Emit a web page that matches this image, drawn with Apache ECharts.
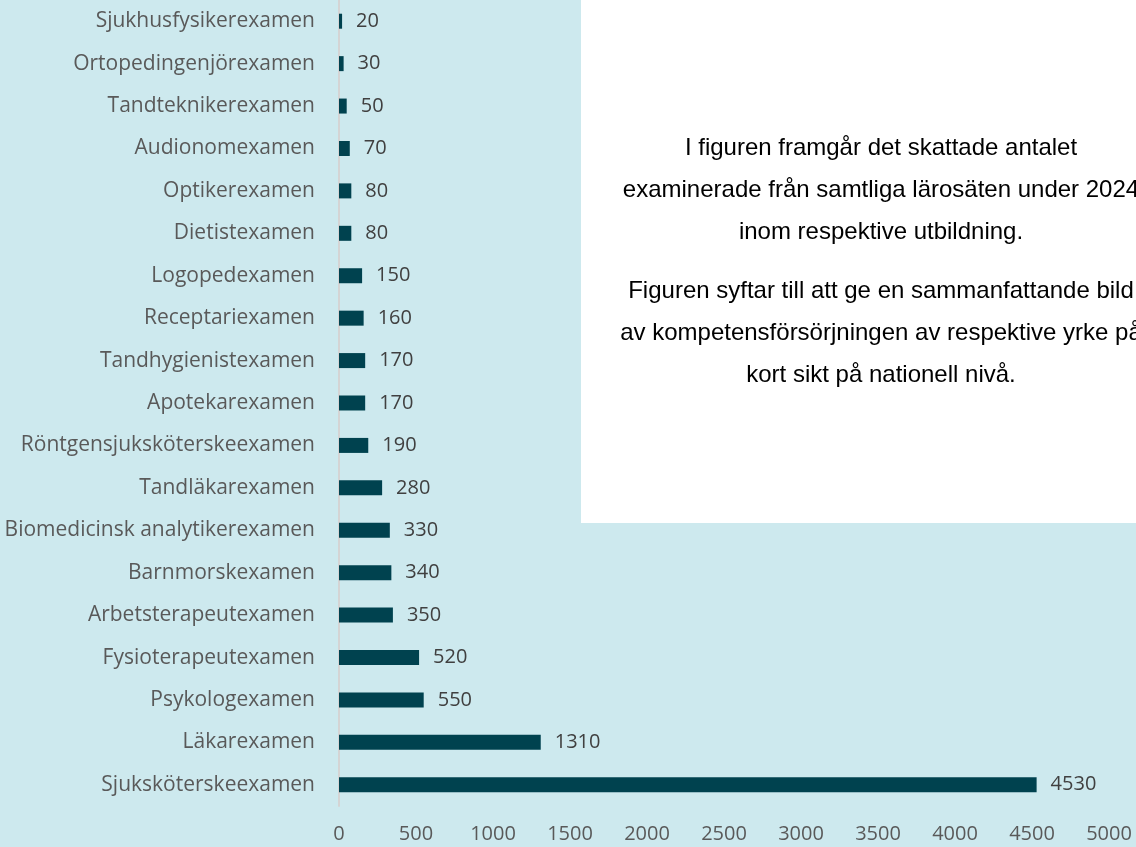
<!doctype html>
<html>
<head>
<meta charset="utf-8">
<title>Examinerade 2024</title>
<style>
  html, body { margin: 0; padding: 0; width: 100%; height: 100%; background: #cde9ee; }
  #chart { width: 1136px; height: 847px; }
</style>
</head>
<body>
<div id="chart"></div>
<script src="https://cdn.jsdelivr.net/npm/echarts@6/dist/echarts.min.js"></script>
<script>
// categories, bottom to top (ECharts category axis runs upwards)
var categories = [
  'Sjuksköterskeexamen', 'Läkarexamen', 'Psykologexamen', 'Fysioterapeutexamen',
  'Arbetsterapeutexamen', 'Barnmorskexamen', 'Biomedicinsk analytikerexamen',
  'Tandläkarexamen', 'Röntgensjuksköterskeexamen', 'Apotekarexamen',
  'Tandhygienistexamen', 'Receptariexamen', 'Logopedexamen', 'Dietistexamen',
  'Optikerexamen', 'Audionomexamen', 'Tandteknikerexamen', 'Ortopedingenjörexamen',
  'Sjukhusfysikerexamen'
];
var values = [4530, 1310, 550, 520, 350, 340, 330, 280, 190, 170, 170, 160, 150, 80, 80, 70, 50, 30, 20];
var xTicks = [0, 500, 1000, 1500, 2000, 2500, 3000, 3500, 4000, 4500, 5000];

var notePara1 = [
  'I figuren framgår det skattade antalet',
  'examinerade från samtliga lärosäten under 2024',
  'inom respektive utbildning.'
];
var notePara2 = [
  'Figuren syftar till att ge en sammanfattande bild',
  'av kompetensförsörjningen av respektive yrke på',
  'kort sikt på nationell nivå.'
];

var labelFont = 'Open Sans';

// note text as one rich text block: two paragraphs with a smaller gap line
function wrap(lines) {
  return lines.map(function (t) { return '{a|' + t + '}'; }).join('\n');
}
var noteText = wrap(notePara1) + '\n{g| }\n' + wrap(notePara2);

var chart = echarts.init(document.getElementById('chart'));
var option = {
  backgroundColor: '#cde9ee',
  animation: false,
  grid: { left: 339, right: 27, top: -1, bottom: 41, containLabel: false },
  xAxis: {
    type: 'value',
    min: xTicks[0],
    max: xTicks[xTicks.length - 1],
    interval: 500,
    axisLine: { show: false },
    axisTick: { show: false },
    splitLine: { show: false },
    axisLabel: {
      color: '#595959', fontSize: 20, fontFamily: labelFont, margin: 18,
      formatter: function (v) { return String(v); }
    }
  },
  yAxis: {
    type: 'category',
    data: categories,
    axisLine: { show: true, lineStyle: { color: '#d4d4d4', width: 2 } },
    axisTick: { show: false },
    axisLabel: { color: '#595959', fontSize: 21, fontFamily: labelFont, margin: 24 }
  },
  series: [{
    type: 'bar',
    data: values,
    barWidth: 15,
    itemStyle: { color: '#00424f' },
    label: {
      show: true,
      position: 'right',
      distance: 14,
      color: '#404040',
      fontSize: 20,
      fontFamily: labelFont
    }
  }],
  graphic: [
    {
      type: 'rect',
      left: 581, top: 0,
      shape: { width: 560, height: 523 },
      style: { fill: '#ffffff' },
      z: 10
    },
    {
      type: 'text',
      x: 881,
      y: 127,
      z: 11,
      style: {
        text: noteText,
        align: 'center',
        verticalAlign: 'top',
        rich: {
          a: {
            fontFamily: '"Liberation Sans", Arial, sans-serif',
            fontSize: 24,
            lineHeight: 42,
            color: '#000000',
            align: 'center'
          },
          g: { fontSize: 1, lineHeight: 17, align: 'center' }
        }
      }
    }
  ]
};
chart.setOption(option);
</script>
</body>
</html>
